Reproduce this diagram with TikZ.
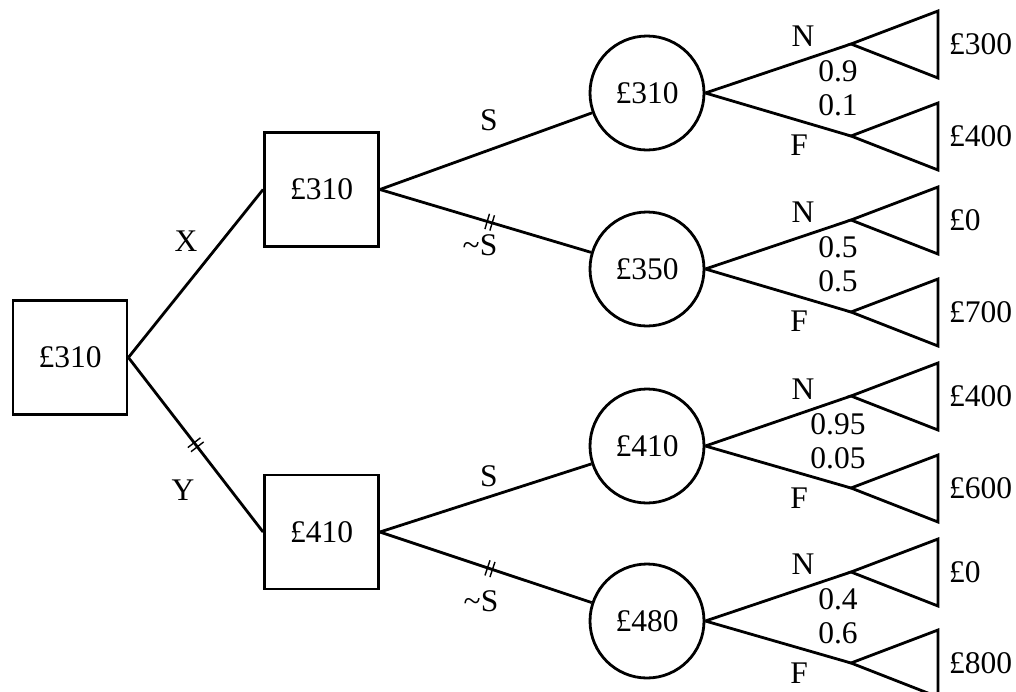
\documentclass[tikz,border=0pt]{standalone}
\usepackage{fontspec}
\setmainfont{Liberation Serif}
\usetikzlibrary{decorations.markings}
\begin{document}
\begin{tikzpicture}[x=1pt,y=-1pt,
  every node/.style={font=\fontsize{31.5}{36}\selectfont},
  edge/.style={line width=2.8pt},
  decision/.style={draw, line width=2.8pt, minimum size=114pt, inner sep=0pt},
  chance/.style={draw, circle, line width=2.8pt, minimum size=114pt, inner sep=0pt},
  lbl/.style={inner sep=0pt},
  payoff/.style={inner sep=0pt, anchor=west},
  barred/.style={postaction={decorate, decoration={markings,
      mark=at position #1 with {\draw[line width=1.4pt] (-2.6,-8)--(-2.6,8) (2.6,-8)--(2.6,8);}}}},
]
\useasboundingbox (0,0) rectangle (1016,691);

% decision nodes
\node[decision] (root) at (70,357.5) {£310};
\node[decision] (dx) at (321.5,189.5) {£310};
\node[decision] (dy) at (321.5,532) {£410};

% chance nodes
\node[chance] (c1) at (647,93) {£310};
\node[chance] (c2) at (647,269) {£350};
\node[chance] (c3) at (647,446) {£410};
\node[chance] (c4) at (647,621) {£480};

% first choice
\draw[edge] (root.east) -- (dx.west);
\draw[edge, barred=0.5] (root.east) -- (dy.west);
\node[lbl] (lx) at (186,241) {X};
\node[lbl] (ly) at (183,490) {Y};

% second choice
\draw[edge] (dx.east) -- (c1);
\draw[edge, barred=0.52] (dx.east) -- (c2);
\draw[edge] (dy.east) -- (c3);
\draw[edge, barred=0.52] (dy.east) -- (c4);
\node[lbl] (s1) at (489,120) {S};
\node[lbl] (ns1) at (480,245) {\textasciitilde S};
\node[lbl] (s2) at (489,476) {S};
\node[lbl] (ns2) at (481,601) {\textasciitilde S};

% outcomes: terminal triangles with payoffs
\foreach \n/\y/\v in {t1/44/£300, t2/136/£400, t3/220/£0, t4/312/£700,
                      t5/396/£400, t6/488/£600, t7/572/£0, t8/663/£800} {
  \coordinate (\n) at (851,\y);
  \draw[edge, line join=miter] (\n) -- ++(87,-33) -- ++(0,67) -- cycle;
  \node[payoff] (\n v) at (949,\y) {\v};
}

% chance branches
\foreach \c/\a/\b in {c1/t1/t2, c2/t3/t4, c3/t5/t6, c4/t7/t8} {
  \draw[edge] (\c.east) -- (\a);
  \draw[edge] (\c.east) -- (\b);
}

% branch labels
\foreach \c/\p/\q in {c1/0.9/0.1, c2/0.5/0.5, c3/0.95/0.05, c4/0.4/0.6} {
  \node[lbl] (\c n) at ([shift={(156,-57)}]\c.center) {N};
  \node[lbl] (\c p) at ([shift={(191,-22)}]\c.center) {\p};
  \node[lbl] (\c q) at ([shift={(191,12)}]\c.center) {\q};
  \node[lbl] (\c f) at ([shift={(152,52)}]\c.center) {F};
}
\end{tikzpicture}
\end{document}
